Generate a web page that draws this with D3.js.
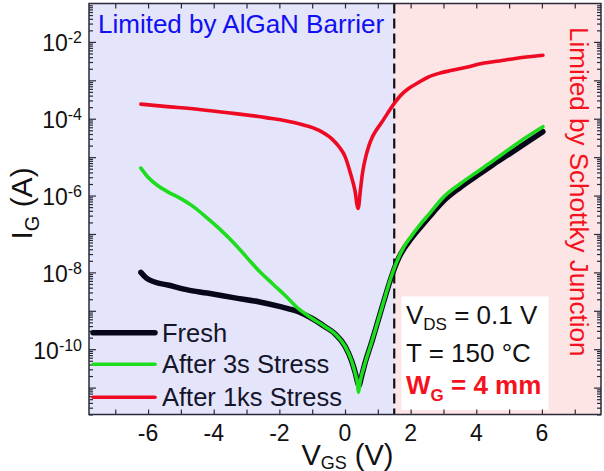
<!DOCTYPE html>
<html>
<head>
<meta charset="utf-8">
<script src="https://cdn.jsdelivr.net/npm/d3@7"></script>
<style>
  html, body { margin: 0; padding: 0; background: #fff; }
  svg { display: block; font-family: "Liberation Sans", Arial, Helvetica, sans-serif; }
</style>
</head>
<body>
<svg id="chart" width="604" height="471"></svg>
<script>
// Gate voltage sweep V_GS (V) and gate current I_G (A) for each stress state
const vFresh = [-6.22, -6.05, -5.8, -5.4, -4.8, -4.2, -3.4, -2.6, -2.0, -1.4, -1.0, -0.6, -0.3, 0.0, 0.2, 0.32, 0.38, 0.43, 0.48, 0.58, 0.83, 1.13, 1.44, 1.64, 1.8, 2.0, 2.3, 2.6, 3.0, 3.5, 4.0, 4.5, 5.0, 5.5, 6.03];
const iFresh = [1.0e-8, 7.1e-9, 5.6e-9, 4.7e-9, 3.5e-9, 2.9e-9, 2.2e-9, 1.7e-9, 1.3e-9, 9.3e-10, 6.3e-10, 3.8e-10, 2.5e-10, 1.2e-10, 5.0e-11, 2.3e-11, 1.4e-11, 1.1e-11, 1.6e-11, 3.5e-11, 1.7e-10, 1.26e-9, 8.9e-9, 2.4e-8, 4.2e-8, 7.2e-8, 1.5e-7, 3.0e-7, 7.2e-7, 1.6e-6, 3.2e-6, 6.3e-6, 1.2e-5, 2.3e-5, 4.6e-5];

const v3s = [-6.22, -6.0, -5.7, -5.4, -5.0, -4.6, -4.2, -3.8, -3.4, -3.0, -2.6, -2.2, -1.8, -1.4, -1.0, -0.6, -0.3, 0.0, 0.2, 0.32, 0.38, 0.41, 0.46, 0.58, 0.83, 1.13, 1.44, 1.64, 1.8, 2.0, 2.3, 2.6, 3.0, 3.5, 4.0, 4.5, 5.0, 5.5, 6.03];
const i3s = [5.2e-6, 3.0e-6, 1.8e-6, 1.25e-6, 8.3e-7, 5.0e-7, 2.6e-7, 1.3e-7, 6.0e-8, 2.5e-8, 1.05e-8, 5.0e-9, 2.4e-9, 1.1e-9, 6.3e-10, 3.8e-10, 2.5e-10, 1.2e-10, 5.0e-11, 2.2e-11, 1.26e-11, 7.6e-12, 1.4e-11, 3.5e-11, 1.7e-10, 1.26e-9, 9.3e-9, 2.5e-8, 4.7e-8, 8.3e-8, 1.8e-7, 3.6e-7, 9.1e-7, 2.0e-6, 4.0e-6, 7.9e-6, 1.6e-5, 3.2e-5, 6.2e-5];

const v1ks = [-6.22, -5.5, -4.44, -3.5, -2.41, -1.4, -0.79, -0.4, -0.18, 0.0, 0.17, 0.3, 0.4, 0.47, 0.53, 0.63, 0.73, 0.83, 0.95, 1.13, 1.3, 1.54, 1.75, 1.95, 2.25, 2.55, 2.9, 3.26, 3.7, 4.17, 4.7, 5.19, 5.6, 6.03];
const i1ks = [2.4e-4, 2.1e-4, 1.74e-4, 1.41e-4, 1.07e-4, 7.4e-5, 5.0e-5, 3.0e-5, 1.86e-5, 1.05e-5, 3.7e-6, 1.4e-6, 4.6e-7, 1.4e-6, 3.7e-6, 1.0e-5, 2.0e-5, 3.3e-5, 5.0e-5, 8.3e-5, 1.4e-4, 2.8e-4, 4.5e-4, 6.2e-4, 8.9e-4, 1.23e-3, 1.55e-3, 1.82e-3, 2.2e-3, 2.75e-3, 3.2e-3, 3.7e-3, 4.1e-3, 4.5e-3];

const seriesNames = ["Fresh", "After 3s Stress", "After 1ks Stress"];

// Axis ticks and labels
const xTickLabels = [-6, -4, -2, 0, 2, 4, 6];
const xMinorTicks = [-7, -6, -5, -4, -3, -2, -1, 0, 1, 2, 3, 4, 5, 6, 7];
const yLabelExponents = [-2, -4, -6, -8, -10];
const yDecadeExponents = [-11, -10, -9, -8, -7, -6, -5, -4, -3, -2];

// Region boundary between the two conduction regimes (V)
const boundaryV = [1.5];

const svg = d3.select("#chart");
const L = 89, R = 601, T = 3.5, B = 414.5;

const x = d3.scaleLinear().domain([-7.8, 7.8]).range([L, R]);
const y = d3.scaleLog().domain([Math.pow(10, -11.7), 1e-1]).range([B, T]);

const colors = {
  fresh: "#07071a",
  s3: "#1edc1e",
  s1k: "#ee0a22",
  blueBg: "#e4e4fb",
  pinkBg: "#fde5e5",
  blueText: "#1010f2",
  redText: "#f5121e"
};

// Shaded regions
svg.append("rect").attr("x", L).attr("y", T)
  .attr("width", x(boundaryV[0]) - L).attr("height", B - T)
  .attr("fill", colors.blueBg);
svg.append("rect").attr("x", x(boundaryV[0])).attr("y", T)
  .attr("width", R - x(boundaryV[0])).attr("height", B - T)
  .attr("fill", colors.pinkBg);

// Annotation box (white background)
const note = svg.append("g");
note.append("rect").attr("x", 401.5).attr("y", 296.5).attr("width", 147).attr("height", 113.5).attr("fill", "#fff");

// Dashed boundary
svg.append("line")
  .attr("x1", x(boundaryV[0])).attr("x2", x(boundaryV[0]))
  .attr("y1", T).attr("y2", B)
  .attr("stroke", "#111").attr("stroke-width", 2.2)
  .attr("stroke-dasharray", "10,5");

// Axes ticks (inward, mirrored on all sides)
function styleAxis(g) {
  g.select(".domain").remove();
  g.selectAll(".tick line").attr("stroke", "#2a2a3a").attr("stroke-width", 1.2);
  g.selectAll(".tick text").remove();
}
svg.append("g").attr("transform", `translate(0,${B})`)
  .call(d3.axisBottom(x).tickValues(xMinorTicks).tickSize(-5).tickFormat("")).call(styleAxis);
svg.append("g").attr("transform", `translate(0,${T})`)
  .call(d3.axisTop(x).tickValues(xMinorTicks).tickSize(-5).tickFormat("")).call(styleAxis);

const yMajor = yDecadeExponents.map(e => Math.pow(10, e));
const yMinor = [];
yDecadeExponents.concat([-12]).forEach(e => {
  for (let m = 2; m <= 9; m++) {
    const v = m * Math.pow(10, e);
    if (v >= y.domain()[0] && v <= y.domain()[1]) yMinor.push(v);
  }
});
svg.append("g").attr("transform", `translate(${L},0)`)
  .call(d3.axisLeft(y).tickValues(yMajor).tickSize(-7).tickFormat("")).call(styleAxis);
svg.append("g").attr("transform", `translate(${L},0)`)
  .call(d3.axisLeft(y).tickValues(yMinor).tickSize(-4).tickFormat("")).call(styleAxis);
svg.append("g").attr("transform", `translate(${R},0)`)
  .call(d3.axisRight(y).tickValues(yMajor).tickSize(-7).tickFormat("")).call(styleAxis);
svg.append("g").attr("transform", `translate(${R},0)`)
  .call(d3.axisRight(y).tickValues(yMinor).tickSize(-4).tickFormat("")).call(styleAxis);

// Curves
const line = d3.line().x(d => x(d[0])).y(d => y(d[1])).curve(d3.curveMonotoneX);
const curves = [
  { v: vFresh, i: iFresh, color: colors.fresh, w: 5.5 },
  { v: v3s, i: i3s, color: colors.s3, w: 3.6 },
  { v: v1ks, i: i1ks, color: colors.s1k, w: 3.6 }
];
curves.forEach(c => {
  svg.append("path")
    .datum(d3.zip(c.v, c.i))
    .attr("d", line)
    .attr("fill", "none")
    .attr("stroke", c.color)
    .attr("stroke-width", c.w)
    .attr("stroke-linecap", "round")
    .attr("stroke-linejoin", "round");
});

// Frame
svg.append("rect").attr("x", L).attr("y", T).attr("width", R - L).attr("height", B - T)
  .attr("fill", "none").attr("stroke", "#2a2a3a").attr("stroke-width", 1.5);

// X tick labels
svg.append("g").selectAll("text").data(xTickLabels).join("text")
  .attr("x", d => x(d)).attr("y", 441)
  .attr("text-anchor", "middle").attr("font-size", 23).attr("fill", "#111")
  .text(d => String(d));

// Y tick labels: 10 with superscript exponent
const yl = svg.append("g").selectAll("text").data(yLabelExponents).join("text")
  .attr("x", 82).attr("y", d => y(Math.pow(10, d)) + 9.5)
  .attr("text-anchor", "end").attr("font-size", 23).attr("fill", "#111");
yl.append("tspan").text("10");
yl.append("tspan").attr("font-size", 16).attr("dy", -8).text(d => String(d));

// Axis titles
const xt = svg.append("text").attr("x", 347.5).attr("y", 465)
  .attr("text-anchor", "middle").attr("font-size", 29).attr("fill", "#111");
xt.append("tspan").text("V");
xt.append("tspan").attr("font-size", 18).attr("dy", 4).text("GS");
xt.append("tspan").attr("dy", -4).text(" (V)");

const yt = svg.append("text").attr("transform", "translate(32,203.5) rotate(-90)")
  .attr("text-anchor", "middle").attr("font-size", 30).attr("fill", "#111");
yt.append("tspan").text("I");
yt.append("tspan").attr("font-size", 20).attr("dy", 7).text("G");
yt.append("tspan").attr("dy", -7).text(" (A)");

// Region labels
svg.append("text").attr("x", 98).attr("y", 33)
  .attr("font-size", 26).attr("fill", colors.blueText)
  .text("Limited by AlGaN Barrier");
svg.append("text").attr("transform", "translate(570,27) rotate(90)")
  .attr("font-size", 26).attr("fill", colors.redText)
  .text("Limited by Schottky Junction");

// Conditions
const n1 = note.append("text").attr("x", 406).attr("y", 324).attr("font-size", 26).attr("fill", "#111");
n1.append("tspan").text("V");
n1.append("tspan").attr("font-size", 17).attr("dy", 6).text("DS");
n1.append("tspan").attr("dy", -6).text(" = 0.1 V");
note.append("text").attr("x", 406).attr("y", 361.7).attr("font-size", 26).attr("fill", "#111")
  .text("T = 150 \u00B0C");
const n3 = note.append("text").attr("x", 406).attr("y", 394).attr("font-size", 26)
  .attr("font-weight", "bold").attr("fill", colors.redText);
n3.append("tspan").text("W");
n3.append("tspan").attr("font-size", 17).attr("dy", 7).text("G");
n3.append("tspan").attr("dy", -7).text(" = 4 mm");

// Legend
const legendY = [332.7, 364.3, 397.3];
const legendColors = [colors.fresh, colors.s3, colors.s1k];
const legendW = [5.5, 3.6, 3.6];
const lg = svg.append("g");
seriesNames.forEach((name, k) => {
  lg.append("line").attr("x1", 93).attr("x2", 155).attr("y1", legendY[k]).attr("y2", legendY[k])
    .attr("stroke", legendColors[k]).attr("stroke-width", legendW[k]).attr("stroke-linecap", "round");
  lg.append("text").attr("x", 162).attr("y", legendY[k] + 9)
    .attr("font-size", 25.5).attr("fill", "#15152a").text(name);
});
</script>
</body>
</html>
